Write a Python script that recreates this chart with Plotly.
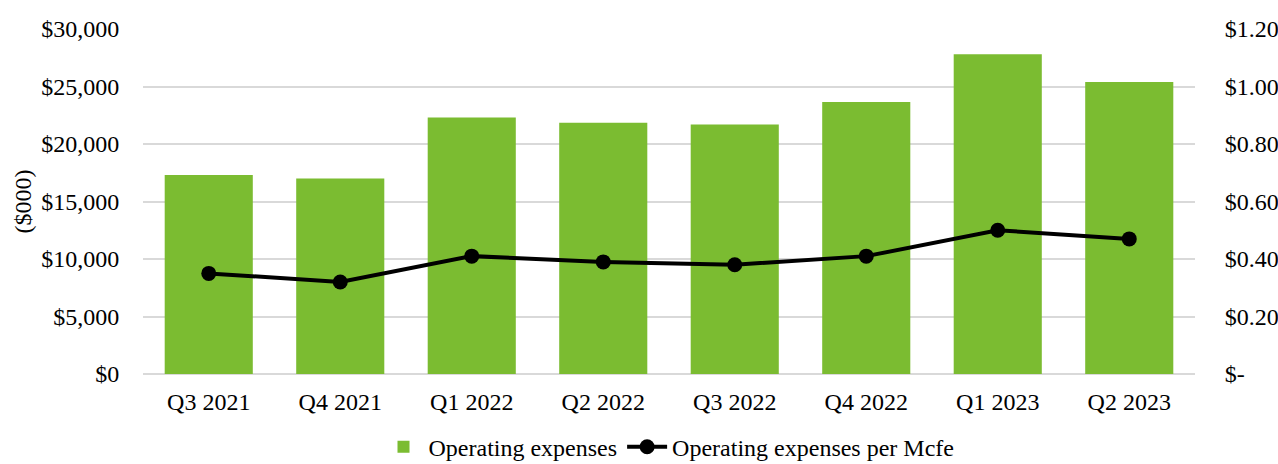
import plotly.graph_objects as go

categories = ["Q3 2021", "Q4 2021", "Q1 2022", "Q2 2022", "Q3 2022", "Q4 2022", "Q1 2023", "Q2 2023"]
opex = [17300, 17000, 22300, 21850, 21700, 23650, 27800, 25400]
opex_per_mcfe = [0.35, 0.32, 0.41, 0.39, 0.38, 0.41, 0.50, 0.47]

left_ticks = [0, 5000, 10000, 15000, 20000, 25000, 30000]
left_labels = ["$0", "$5,000", "$10,000", "$15,000", "$20,000", "$25,000", "$30,000"]
right_ticks = [0, 0.2, 0.4, 0.6, 0.8, 1.0, 1.2]
right_labels = ["$-", "$0.20", "$0.40", "$0.60", "$0.80", "$1.00", "$1.20"]

FONT = "Liberation Serif, Times New Roman, serif"
GREEN = "#7BBC31"
FS = 24

fig = go.Figure()
fig.add_trace(go.Bar(
    x=categories, y=opex, name="Operating expenses",
    marker=dict(color=GREEN, line=dict(width=0)),
    yaxis="y",
))
fig.add_trace(go.Scatter(
    x=categories, y=opex_per_mcfe, name="Operating expenses per Mcfe",
    mode="lines+markers",
    line=dict(color="black", width=4),
    marker=dict(color="black", size=15),
    yaxis="y2",
))

fig.update_layout(
    width=1278, height=464,
    margin=dict(l=143, r=83, t=29, b=90, autoexpand=False),
    paper_bgcolor="white", plot_bgcolor="white",
    font=dict(family=FONT, size=FS, color="black"),
    bargap=0.33,
    showlegend=True,
    legend=dict(
        orientation="h", x=0.5, xanchor="center", y=-0.212, yanchor="middle",
        font=dict(family=FONT, size=FS, color="black"),
        itemwidth=40, tracegroupgap=0,
    ),
    xaxis=dict(
        showgrid=False, showline=False, zeroline=False,
        ticks="outside", ticklen=6, tickcolor="rgba(0,0,0,0)",
        tickfont=dict(family=FONT, size=FS),
        automargin=False,
    ),
    yaxis=dict(
        range=[0, 30000], tickvals=left_ticks, ticktext=left_labels,
        showgrid=True, gridcolor="#d9d9d9", gridwidth=1.5,
        zeroline=True, zerolinecolor="#d9d9d9", zerolinewidth=2,
        showline=False,
        ticks="outside", ticklen=18, tickcolor="rgba(0,0,0,0)",
        tickfont=dict(family=FONT, size=FS),
        title=dict(text="($000)", font=dict(family=FONT, size=FS), standoff=2),
        automargin=False,
    ),
    yaxis2=dict(
        range=[0, 1.2], tickvals=right_ticks, ticktext=right_labels,
        overlaying="y", side="right",
        showgrid=False, zeroline=False, showline=False,
        ticks="outside", ticklen=24, tickcolor="rgba(0,0,0,0)",
        tickfont=dict(family=FONT, size=FS),
        automargin=False,
    ),
)

fig.write_html("out.html", config={"displayModeBar": False},
               post_script="document.body.style.margin='0px';")
